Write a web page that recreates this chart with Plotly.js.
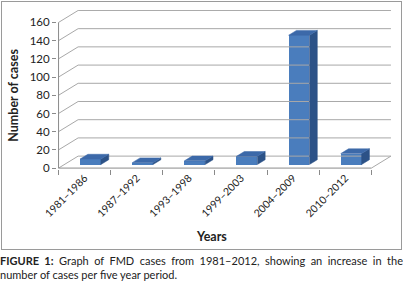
<!DOCTYPE html>
<html>
<head>
<meta charset="utf-8">
<script src="https://cdn.plot.ly/plotly-3.0.1.min.js"></script>
<style>
  html, body { margin:0; padding:0; background:#fff; }
  #wrap { position:relative; width:403px; height:282px; overflow:hidden; }
  #frame { position:absolute; left:1px; top:1px; width:399px; height:247px; border:1px solid #9a9a9a; }
  #chart { position:absolute; left:0; top:0; width:403px; height:250px; }
  #cap { position:absolute; left:0; top:254px; width:403px; font-family:Lato, sans-serif; font-size:11px; line-height:13.5px; color:#222; }
  #cap .l1 { text-align:justify; text-align-last:justify; white-space:nowrap; }
</style>
</head>
<body>
<div id="wrap">
  <div id="frame"></div>
  <div id="chart"></div>
  <div id="cap">
    <div class="l1"><b>FIGURE 1:</b> Graph of FMD cases from 1981–2012, showing an increase in the</div>
    <div>number of cases per five year period.</div>
  </div>
</div>
<script>
// ---- data ----
const categories = ['1981–1986', '1987–1992', '1993–1998', '1999–2003', '2004–2009', '2010–2012'];
const cases = [6, 2, 4, 9, 142, 12];
const yTickValues = [0, 20, 40, 60, 80, 100, 120, 140, 160];
const yTickLabels = ['0', '20', '40', '60', '80', '100', '120', '140', '160'];
const yTitle = 'Number of cases';
const xTitle = 'Years';

// ---- 3D-look geometry (in axis units) ----
const DX = 0.375;   // depth offset along x (category units)
const DY = 13.15;   // depth offset along y (value units)
const FRONT = 0.3, BACK = 0.7; // bar depth fractions
const BW = 0.4;     // bar width
const n = categories.length;
const idx = categories.map((c, i) => i);

const gridCol = '#a8a8a8';
const axisCol = '#8a8a8a';
const frontCol = '#4a7dbd';
const topCol = '#3c69a9';
const sideCol = '#2c5287';

const traces = [];

// back wall + left wall gridlines
const gx = [], gy = [];
yTickValues.forEach(v => {
  gx.push(-0.5, -0.5 + DX, n - 0.5 + DX, null);
  gy.push(v, v + DY, v + DY, null);
});
// floor right edge
gx.push(n - 0.5, n - 0.5 + DX, null);
gy.push(0, DY, null);
traces.push({type:'scatter', mode:'lines', x:gx, y:gy, line:{color:gridCol, width:1}, hoverinfo:'skip', showlegend:false});

// front axis lines
traces.push({type:'scatter', mode:'lines', x:[-0.5, -0.5, n - 0.5], y:[yTickValues[yTickValues.length-1], 0, 0],
  line:{color:axisCol, width:1}, hoverinfo:'skip', showlegend:false});

// bar top and side faces
const d = BACK - FRONT;
idx.forEach(i => {
  const xl = i + FRONT * DX - BW / 2;
  const xr = i + FRONT * DX + BW / 2;
  const b = FRONT * DY;
  const t = b + cases[i];
  traces.push({type:'scatter', mode:'lines', fill:'toself', fillcolor:sideCol,
    x:[xr, xr, xr + d*DX, xr + d*DX, xr], y:[b, t, t + d*DY, b + d*DY, b],
    line:{color:sideCol, width:0.5}, hoverinfo:'skip', showlegend:false});
  traces.push({type:'scatter', mode:'lines', fill:'toself', fillcolor:topCol,
    x:[xl, xr, xr + d*DX, xl + d*DX, xl], y:[t, t, t + d*DY, t + d*DY, t],
    line:{color:topCol, width:0.5}, hoverinfo:'skip', showlegend:false});
});

// bar front faces
traces.push({type:'bar', x:idx.map(i => i + FRONT * DX), y:cases, base:cases.map(() => FRONT * DY),
  width:BW, marker:{color:frontCol, line:{width:0}}, hoverinfo:'skip', showlegend:false});

const pxPerCat = 52;
const xMin = -0.53, xMax = n - 0.5 + DX + 0.02;
const yMin = -1, yMax = 160 + DY + 0.5;
const pxPerVal = 0.9125;
const plotW = (xMax - xMin) * pxPerCat;
const plotH = (yMax - yMin) * pxPerVal;
const left = 59 - (-0.5 - xMin) * pxPerCat;
const bottomPx = 168 + (0 - yMin) * pxPerVal;
const H = 250, W = 403;

const layout = {
  width:W, height:H,
  margin:{l:left, r:W - left - plotW, t:bottomPx - plotH, b:H - bottomPx, pad:0},
  paper_bgcolor:'rgba(0,0,0,0)', plot_bgcolor:'rgba(0,0,0,0)',
  showlegend:false,
  bargap:0,
  xaxis:{type:'linear', range:[xMin, xMax], showgrid:false, zeroline:false, showline:false,
    tickmode:'array', tickvals:idx, ticktext:categories, tickangle:-45, ticks:'', ticklen:0,
    tickfont:{family:'Lato, sans-serif', size:10.5, color:'#222'},
    minor:{tickmode:'array', tickvals:idx.concat([n]).map(i => i - 0.5), ticks:'outside', ticklen:5, tickcolor:axisCol, tickwidth:1, showgrid:false}},
  yaxis:{range:[yMin, yMax], showgrid:false, zeroline:false, showline:false,
    tickmode:'array', tickvals:yTickValues, ticktext:yTickLabels, ticks:'outside', ticklen:4, tickcolor:axisCol,
    tickfont:{family:'Lato, sans-serif', size:11.5, color:'#222'}},
  annotations:[
    {text:'<b>' + yTitle + '</b>', xref:'paper', yref:'paper', x:(14 - left) / plotW, y:(bottomPx - 95) / plotH,
      textangle:-90, showarrow:false, xanchor:'center', yanchor:'middle', font:{family:'Lato, sans-serif', size:12.5, color:'#222'}},
    {text:'<b>' + xTitle + '</b>', xref:'paper', yref:'paper', x:(212 - left) / plotW, y:(bottomPx - 237) / plotH,
      showarrow:false, xanchor:'center', yanchor:'middle', font:{family:'Lato, sans-serif', size:12.5, color:'#222'}}
  ]
};

Plotly.newPlot('chart', traces, layout, {staticPlot:true, displayModeBar:false});
</script>
</body>
</html>
